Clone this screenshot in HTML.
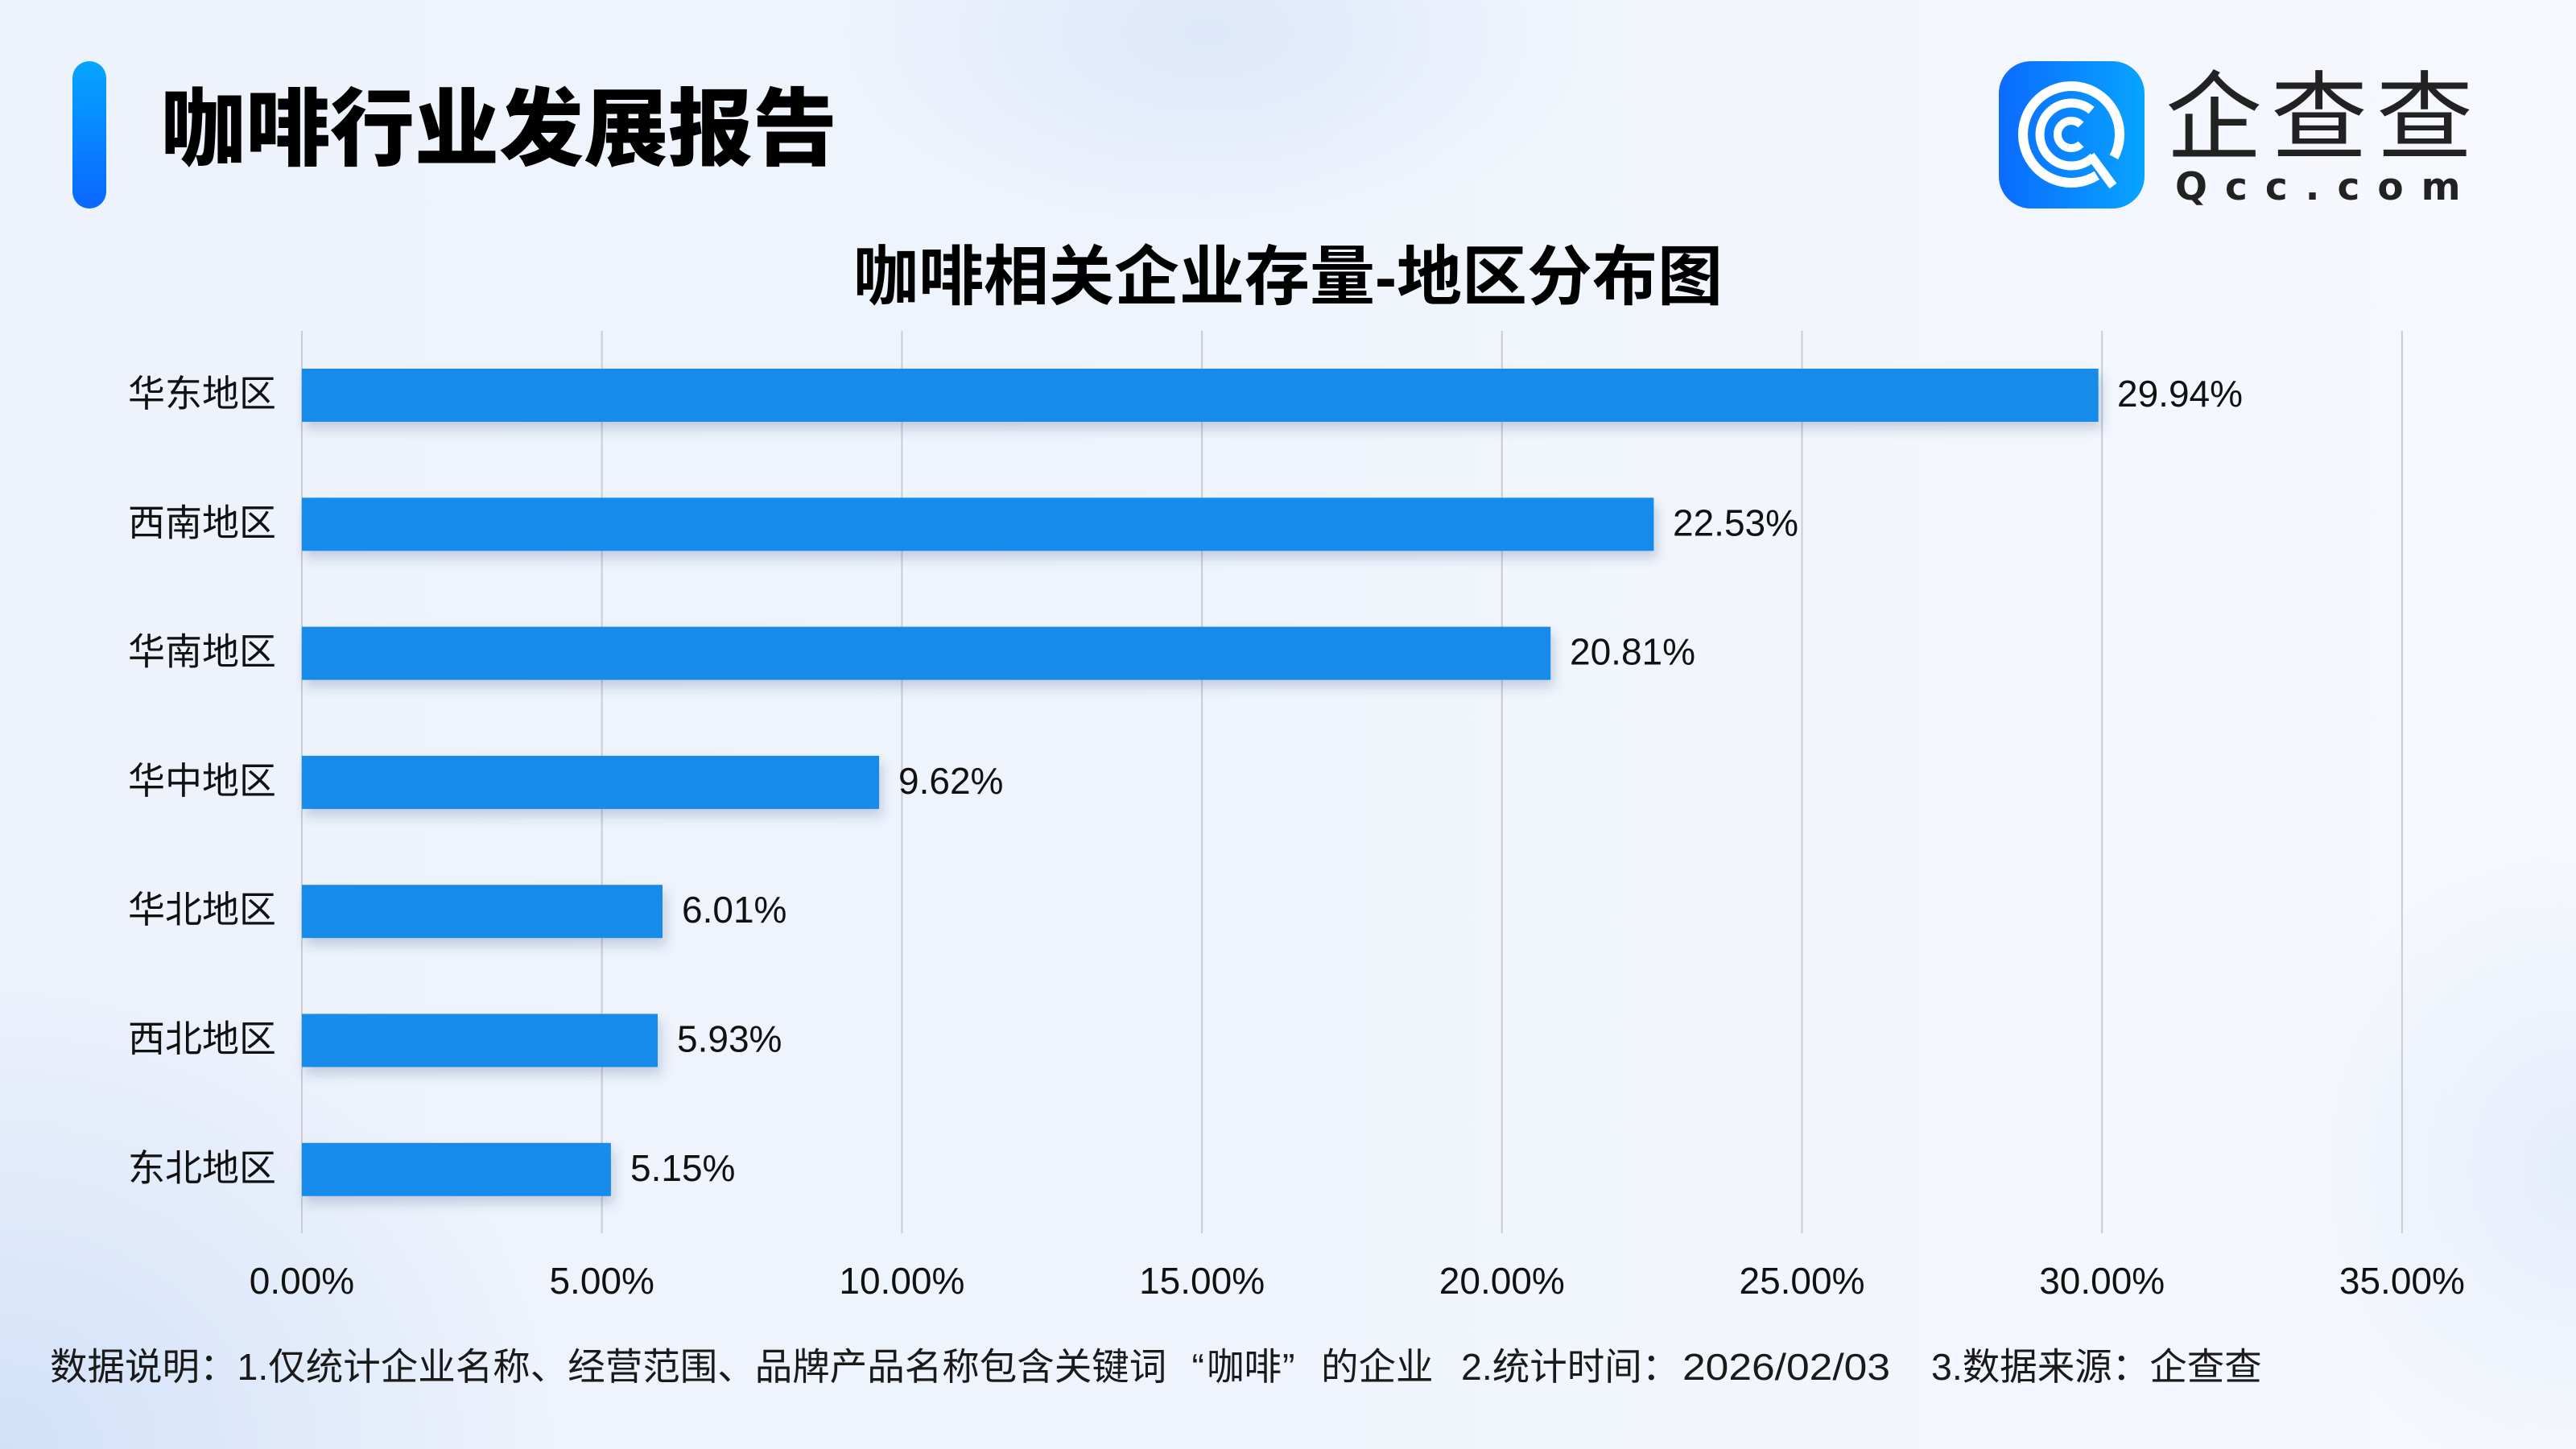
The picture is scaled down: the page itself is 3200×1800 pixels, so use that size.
<!DOCTYPE html>
<html>
<head>
<meta charset="utf-8">
<style>
  html, body { margin:0; padding:0; }
  body {
    width:3200px; height:1800px; overflow:hidden; position:relative;
    background-color:#F0F4FC;
    background-image:
      radial-gradient(ellipse 700px 600px at 0px 1800px, rgba(205,222,248,0.85), rgba(205,222,248,0) 100%),
      radial-gradient(ellipse 480px 260px at 1500px 40px, rgba(218,230,250,0.85), rgba(218,230,250,0) 100%),
      radial-gradient(ellipse 350px 400px at 3200px 1450px, rgba(222,233,250,0.7), rgba(222,233,250,0) 100%),
      linear-gradient(90deg, #EDF2FB 0%, #EFF4FC 45%, #F6F8FD 100%);
  }
  svg { position:absolute; left:0; top:0; }
  .cjk { font-family:"Liberation Sans","Noto Sans CJK SC",sans-serif; }
</style>
</head>
<body>
<svg width="3200" height="1800" viewBox="0 0 3200 1800" xmlns="http://www.w3.org/2000/svg">
  <defs>
    <linearGradient id="accent" x1="0" y1="0" x2="0" y2="1">
      <stop offset="0" stop-color="#05A6FF"/>
      <stop offset="1" stop-color="#0A66FF"/>
    </linearGradient>
    <linearGradient id="logoBg" x1="0" y1="0" x2="1" y2="0">
      <stop offset="0" stop-color="#0B6BFF"/>
      <stop offset="1" stop-color="#07A4FF"/>
    </linearGradient>
    <filter id="shadow" x="-5%" y="-40%" width="115%" height="200%">
      <feDropShadow dx="4" dy="9" stdDeviation="7" flood-color="#1E3C78" flood-opacity="0.22"/>
    </filter>
  </defs>

  <!-- header accent bar -->
  <rect x="90" y="76" width="42" height="183" rx="21" ry="21" fill="url(#accent)"/>
  <text x="200" y="197" class="cjk" font-size="105" font-weight="900" fill="#000">咖啡行业发展报告</text>

  <!-- logo -->
  <g transform="translate(2483,76)">
    <rect x="0" y="0" width="181" height="183" rx="40" ry="40" fill="url(#logoBg)"/>
    <g fill="none" stroke="#fff">
      <path d="M 121.8 141.9 A 60 60 0 1 1 143 119.2" stroke-width="12"/>
      <path d="M 117.6 118.6 A 39 39 0 1 1 115.1 61.1" stroke-width="11"/>
      <line x1="114" y1="117" x2="142" y2="155" stroke-width="11"/>
      <path d="M 102 103 A 17 17 0 1 1 102 79" stroke-width="10"/>
    </g>
  </g>
  <text x="2690" y="188" class="cjk" font-size="120" letter-spacing="11" fill="#222">企查查</text>
  <text x="2702" y="248" font-family="DejaVu Sans, sans-serif" font-weight="bold" font-size="47" letter-spacing="22" fill="#222">Qcc.com</text>

  <!-- chart title -->
  <text x="1600" y="372" class="cjk" font-size="81" font-weight="700" text-anchor="middle" fill="#000">咖啡相关企业存量-地区分布图</text>

  <!-- gridlines -->
  <g stroke="#C9CCD3" stroke-width="2">
    <line x1="375" y1="411" x2="375" y2="1532"/>
    <line x1="747.7" y1="411" x2="747.7" y2="1532"/>
    <line x1="1120.4" y1="411" x2="1120.4" y2="1532"/>
    <line x1="1493.1" y1="411" x2="1493.1" y2="1532"/>
    <line x1="1865.8" y1="411" x2="1865.8" y2="1532"/>
    <line x1="2238.5" y1="411" x2="2238.5" y2="1532"/>
    <line x1="2611.2" y1="411" x2="2611.2" y2="1532"/>
    <line x1="2983.9" y1="411" x2="2983.9" y2="1532"/>
  </g>

  <!-- bars -->
  <g fill="#168BEA" filter="url(#shadow)">
    <rect x="375" y="458" width="2231.7" height="66"/>
    <rect x="375" y="618.3" width="1679.4" height="66"/>
    <rect x="375" y="778.6" width="1551.2" height="66"/>
    <rect x="375" y="938.9" width="717.1" height="66"/>
    <rect x="375" y="1099.2" width="448" height="66"/>
    <rect x="375" y="1259.5" width="442" height="66"/>
    <rect x="375" y="1419.8" width="383.9" height="66"/>
  </g>

  <!-- category labels -->
  <g class="cjk" font-size="46" fill="#111" text-anchor="end">
    <text x="343" y="505">华东地区</text>
    <text x="343" y="665.3">西南地区</text>
    <text x="343" y="825.6">华南地区</text>
    <text x="343" y="985.9">华中地区</text>
    <text x="343" y="1146.2">华北地区</text>
    <text x="343" y="1306.5">西北地区</text>
    <text x="343" y="1466.8">东北地区</text>
  </g>

  <!-- value labels -->
  <g class="cjk" font-size="46" fill="#111">
    <text x="2630" y="505">29.94%</text>
    <text x="2078" y="665.3">22.53%</text>
    <text x="1950" y="825.6">20.81%</text>
    <text x="1116" y="985.9">9.62%</text>
    <text x="847" y="1146.2">6.01%</text>
    <text x="841" y="1306.5">5.93%</text>
    <text x="783" y="1466.8">5.15%</text>
  </g>

  <!-- x tick labels -->
  <g class="cjk" font-size="46" fill="#111" text-anchor="middle">
    <text x="375" y="1607">0.00%</text>
    <text x="747.7" y="1607">5.00%</text>
    <text x="1120.4" y="1607">10.00%</text>
    <text x="1493.1" y="1607">15.00%</text>
    <text x="1865.8" y="1607">20.00%</text>
    <text x="2238.5" y="1607">25.00%</text>
    <text x="2611.2" y="1607">30.00%</text>
    <text x="2983.9" y="1607">35.00%</text>
  </g>

  <!-- footnote -->
  <g class="cjk" font-size="46.5" fill="#1a1a1a">
    <text x="62" y="1714">数据说明：1.仅统计企业名称、经营范围、品牌产品名称包含关键词</text>
    <text x="1496" y="1714" text-anchor="end">“</text>
    <text x="1499" y="1714">咖啡</text>
    <text x="1593" y="1714">”</text>
    <text x="1641" y="1714">的企业</text>
    <text x="1815" y="1714">2.统计时间：</text>
    <text x="2090" y="1714" textLength="258" lengthAdjust="spacingAndGlyphs">2026/02/03</text>
    <text x="2399" y="1714">3.数据来源：企查查</text>
  </g>
</svg>
</body>
</html>
